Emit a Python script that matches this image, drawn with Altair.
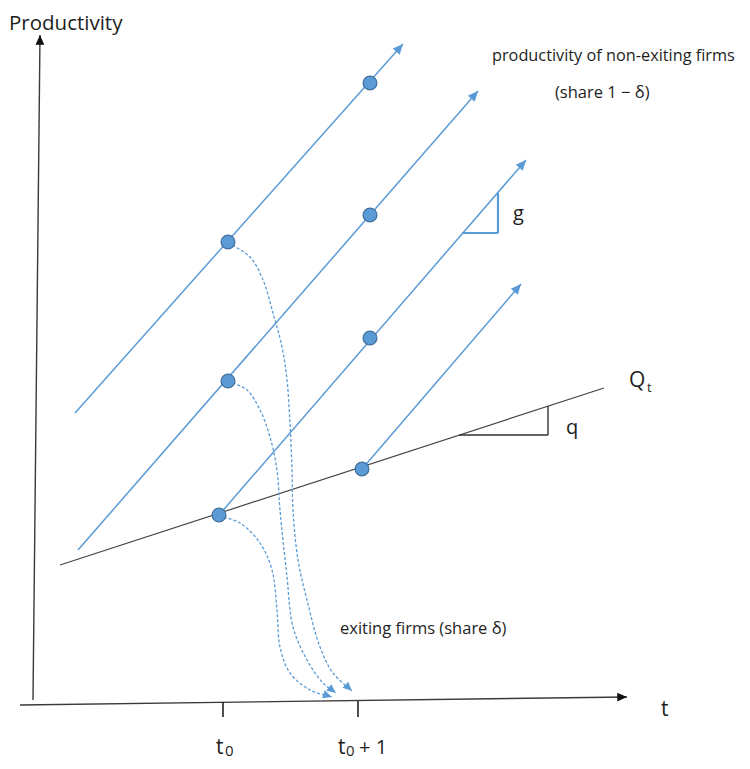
import math
import altair as alt
import pandas as pd

# ---- data (diagram coordinates, page pixels) ----
# axes
axis_x1 = [33, 20]
axis_y1 = [700, 705]
axis_x2 = [40, 627]
axis_y2 = [35, 697]

# tick marks at t0 and t0+1
tick_x = [223, 358]
tick_y1 = [702, 701]
tick_y2 = [717, 717]

# aggregate productivity line Q_t
q_x = [60, 604]
q_y = [565, 388]

# q slope triangle
qtri_x = [459, 548, 548]
qtri_y = [435, 435, 406]

# firm productivity trajectories (start, arrow tip)
traj_x1 = [75, 78, 219, 362]
traj_y1 = [413, 550, 515, 469]
traj_x2 = [403, 478, 526, 521]
traj_y2 = [44, 91, 160, 284]

# g slope triangle
gtri_x = [462, 498, 498]
gtri_y = [233, 233, 193]

# firm dots
dot_x = [228, 228, 219, 370, 370, 370, 362]
dot_y = [242, 381, 515, 83, 215, 338, 469]

# exiting-firm dashed curves
exitA_x = [228, 250, 263, 273, 282, 287, 290, 292, 293, 298, 307, 320, 333, 352]
exitA_y = [243, 257, 280, 313, 347, 380, 423, 470, 510, 560, 600, 647, 673, 691]
exitB_x = [228, 247, 260, 270, 277, 280, 287, 293, 307, 323, 336]
exitB_y = [381, 390, 410, 437, 470, 510, 577, 627, 660, 683, 693]
exitC_x = [219, 240, 260, 272, 277, 280, 290, 310, 332]
exitC_y = [516, 523, 543, 570, 610, 647, 673, 690, 697]

# labels (left edge x, baseline y, font size)
label_text = ["Productivity", "productivity of non-exiting firms", "(share 1 − δ)",
              "exiting firms (share δ)", "g", "q", "Q", "t", "t",
              "t", "0", "t", "0", "+ 1"]
label_x = [9, 492, 555, 340, 513, 566, 629, 647, 661,
           216, 225, 338, 346, 359]
label_y = [30, 61, 98, 634, 220, 434, 387, 392, 716,
           754, 756, 754, 756, 754]
label_size = [20.5, 16.3, 16.5, 16.5, 20, 20, 21, 13, 21,
              21, 15, 21, 15, 20]

BLUE = "#5B9BD5"
DARK = "#41719C"
FONT = "Open Sans"

W, H = 734, 753
xs = alt.Scale(domain=[8, 8 + W], nice=False, zero=False)
ys = alt.Scale(domain=[8 + H, 8], nice=False, zero=False)


def enc_seg():
    return dict(
        x=alt.X("x1:Q", scale=xs, axis=None),
        y=alt.Y("y1:Q", scale=ys, axis=None),
        x2="x2:Q",
        y2="y2:Q",
    )


def enc_pt():
    return dict(x=alt.X("x:Q", scale=xs, axis=None), y=alt.Y("y:Q", scale=ys, axis=None))


def arrow_df(x_from, y_from, x_to, y_to):
    rows = []
    for a, b, c, d in zip(x_from, y_from, x_to, y_to):
        ang = math.degrees(math.atan2(c - a, -(d - b))) % 360
        rows.append({"x": c, "y": d, "angle": ang})
    return pd.DataFrame(rows)


ARROW = "M0,0L-0.45,1L0.45,1Z"

# axes lines
axes_df = pd.DataFrame({"x1": axis_x1, "y1": axis_y1, "x2": axis_x2, "y2": axis_y2})
axes = alt.Chart(axes_df).mark_rule(color="#3a3a3a", strokeWidth=1.4).encode(**enc_seg())
axes_arrows = alt.Chart(arrow_df(axis_x1, axis_y1, axis_x2, axis_y2)).mark_point(
    shape=ARROW, filled=True, color="#111", size=380, opacity=1
).encode(**enc_pt(), angle=alt.Angle("angle:Q", scale=None))

ticks_df = pd.DataFrame({"x1": tick_x, "y1": tick_y1, "x2": tick_x, "y2": tick_y2})
ticks = alt.Chart(ticks_df).mark_rule(color="#222", strokeWidth=1.6).encode(**enc_seg())

# Q_t line
qline_df = pd.DataFrame({"x1": [q_x[0]], "y1": [q_y[0]], "x2": [q_x[1]], "y2": [q_y[1]]})
qline = alt.Chart(qline_df).mark_rule(color="#444", strokeWidth=1.2).encode(**enc_seg())

qtri_df = pd.DataFrame({"x1": qtri_x[:2], "y1": qtri_y[:2], "x2": qtri_x[1:], "y2": qtri_y[1:]})
qtri = alt.Chart(qtri_df).mark_rule(color="#333", strokeWidth=1.4).encode(**enc_seg())

# trajectories
traj_df = pd.DataFrame({"x1": traj_x1, "y1": traj_y1, "x2": traj_x2, "y2": traj_y2})
traj = alt.Chart(traj_df).mark_rule(color=BLUE, strokeWidth=1.5).encode(**enc_seg())
traj_arrows = alt.Chart(arrow_df(traj_x1, traj_y1, traj_x2, traj_y2)).mark_point(
    shape=ARROW, filled=True, color=BLUE, size=420, opacity=1
).encode(**enc_pt(), angle=alt.Angle("angle:Q", scale=None))

gtri_df = pd.DataFrame({"x1": gtri_x[:2], "y1": gtri_y[:2], "x2": gtri_x[1:], "y2": gtri_y[1:]})
gtri = alt.Chart(gtri_df).mark_rule(color=BLUE, strokeWidth=2.2).encode(**enc_seg())

# dashed exit curves
rows = []
for name, cx, cy in [("A", exitA_x, exitA_y), ("B", exitB_x, exitB_y), ("C", exitC_x, exitC_y)]:
    for i, (a, b) in enumerate(zip(cx, cy)):
        rows.append({"curve": name, "i": i, "x": a, "y": b})
exit_df = pd.DataFrame(rows)
exits = alt.Chart(exit_df).mark_line(color=BLUE, strokeWidth=1.3, strokeDash=[3, 2], interpolate="catmull-rom").encode(
    **enc_pt(), detail="curve:N", order="i:Q")
ex_from_x = [exitA_x[-2], exitB_x[-2], exitC_x[-2]]
ex_from_y = [exitA_y[-2], exitB_y[-2], exitC_y[-2]]
ex_to_x = [exitA_x[-1], exitB_x[-1], exitC_x[-1]]
ex_to_y = [exitA_y[-1], exitB_y[-1], exitC_y[-1]]
exit_arrows = alt.Chart(arrow_df(ex_from_x, ex_from_y, ex_to_x, ex_to_y)).mark_point(
    shape=ARROW, filled=True, color=BLUE, size=330, opacity=1
).encode(**enc_pt(), angle=alt.Angle("angle:Q", scale=None))

# dots
dots_df = pd.DataFrame({"x": dot_x, "y": dot_y})
dots = alt.Chart(dots_df).mark_point(shape="circle", filled=True, fill=BLUE, stroke=DARK, strokeWidth=1.3, size=190, opacity=1).encode(
    **enc_pt())

# labels
lab_df = pd.DataFrame({"t": label_text, "x": label_x, "y": label_y, "s": label_size})
labels = alt.Chart(lab_df).mark_text(font=FONT, color="#1e1e1e", align="left", baseline="alphabetic").encode(
    **enc_pt(), text="t:N", size=alt.Size("s:Q", scale=None))

chart = alt.layer(
    axes, axes_arrows, ticks, qline, qtri, traj, traj_arrows, gtri,
    exits, exit_arrows, dots, labels
).properties(width=W, height=H, padding=0, autosize="none", background="white").configure_view(stroke=None)

chart.save("out.html", embed_options={"renderer": "svg", "actions": False})
